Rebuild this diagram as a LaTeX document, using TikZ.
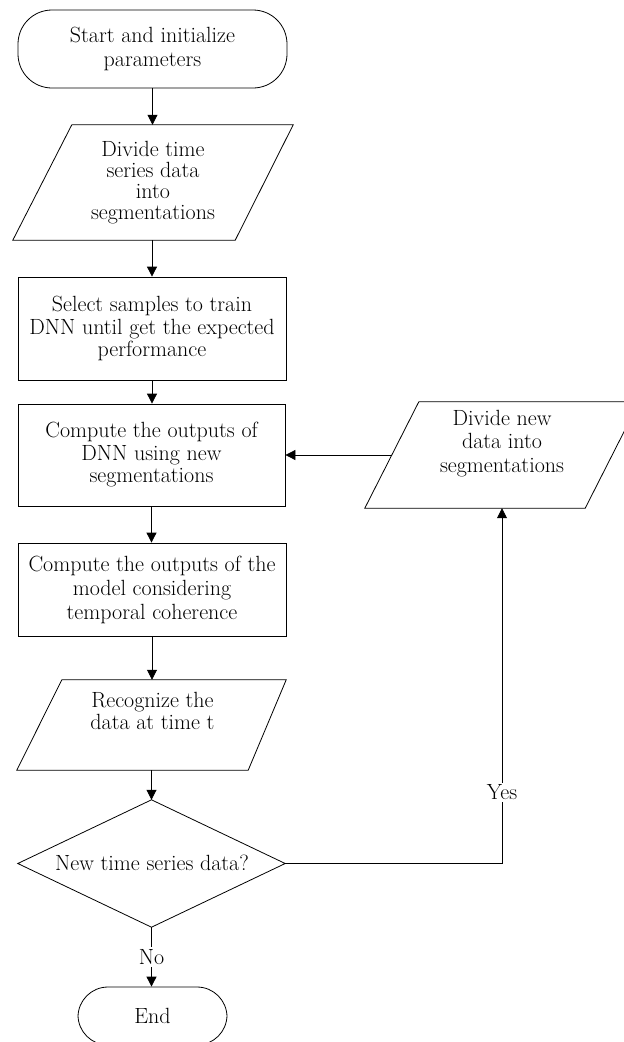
\documentclass[tikz,border=0pt]{standalone}
\usetikzlibrary{arrows.meta,calc}
\begin{document}
\begin{tikzpicture}[x=1pt,y=-1pt,
  every node/.style={font=\fontsize{22}{22.5}\selectfont, align=center, inner sep=0pt},
  line/.style={line width=0.8pt, draw=black},
  arr/.style={line width=0.8pt, draw=black, -{Triangle[length=10pt,width=10pt]}},
  rbox/.style={draw, line width=0.8pt, rectangle},
  term/.style={draw, line width=0.8pt, rectangle},
  frame/.style={rectangle},
  lbl/.style={fill=white, inner sep=2pt}]
\useasboundingbox (0,0) rectangle (624,1042);
\clip (0,0) rectangle (624,1042);

% start terminal
\node[term, rounded corners=34pt, minimum width=269pt, minimum height=78pt, font=\fontsize{22}{24}\selectfont] (start) at (152.5,49) {Start and initialize\\parameters};

% parallelogram 1
\node[frame, minimum width=280pt, minimum height=115pt, font=\fontsize{22}{21}\selectfont] (p1) at (153,182.5) {Divide time\\series data\\into\\segmentations};
\draw[line] ([xshift=59pt]p1.north west) -- (p1.north east) -- ([xshift=-58pt]p1.south east) -- (p1.south west) -- cycle;

% rectangles
\node[rbox, minimum width=268pt, minimum height=103pt] (r1) at (152,328.5) {Select samples to train\\DNN until get the expected\\performance};
\node[rbox, minimum width=267pt, minimum height=102pt] (r2) at (151.5,455) {Compute the outputs of\\DNN using new\\segmentations};
\node[rbox, minimum width=268pt, minimum height=93pt, font=\fontsize{22}{24}\selectfont] (r3) at (152,589.5) {Compute the outputs of the\\model considering\\temporal coherence};

% parallelogram 2
\node[frame, minimum width=269pt, minimum height=90pt] (p2) at (151.5,725) {};
\draw[line] ([xshift=45pt]p2.north west) -- (p2.north east) -- ([xshift=-38pt]p2.south east) -- (p2.south west) -- cycle;
\node (p2t) at (152.5,711) {Recognize the\\data at time t};

% decision
\node[frame, minimum width=267pt, minimum height=127pt] (d) at (151.5,863.5) {};
\draw[line] (d.north) -- (d.east) -- (d.south) -- (d.west) -- cycle;
\node (dt) at (152,863) {New time series data?};

% end terminal
\node[term, rounded corners=30pt, minimum width=149pt, minimum height=58pt] (end) at (152.5,1016) {End};

% right parallelogram
\node[frame, minimum width=274pt, minimum height=106pt] (p3) at (502,455) {};
\draw[line] ([xshift=54pt]p3.north west) -- (p3.north east) -- ([xshift=-54pt]p3.south east) -- (p3.south west) -- cycle;
\node[font=\fontsize{22}{23.3}\selectfont] (p3t) at (502,443.5) {Divide new\\data into\\segmentations};
\coordinate (p3w) at ($(p3.south west)!0.5!([xshift=54pt]p3.north west)$);
\coordinate (yc) at (p3.south |- d.east);

% connectors
\draw[arr] (start.south) -- (p1.north -| start.south);
\draw[arr] (p1.south -| r1.north) -- (r1.north);
\draw[arr] (r1.south) -- (r1.south |- r2.north);
\draw[arr] (r2.south) -- (r2.south |- r3.north);
\draw[arr] (r3.south) -- (r3.south |- p2.north);
\draw[arr] (p2.south -| d.north) -- (d.north);
\draw[arr] (d.south) -- node[lbl, pos=0.5] {No} (d.south |- end.north);
\draw[line] (d.east) -- (yc);
\draw[arr] (yc) -- node[lbl, pos=0.2] {Yes} (p3.south);
\draw[arr] (p3w) -- (p3w -| r2.east);
\end{tikzpicture}
\end{document}
